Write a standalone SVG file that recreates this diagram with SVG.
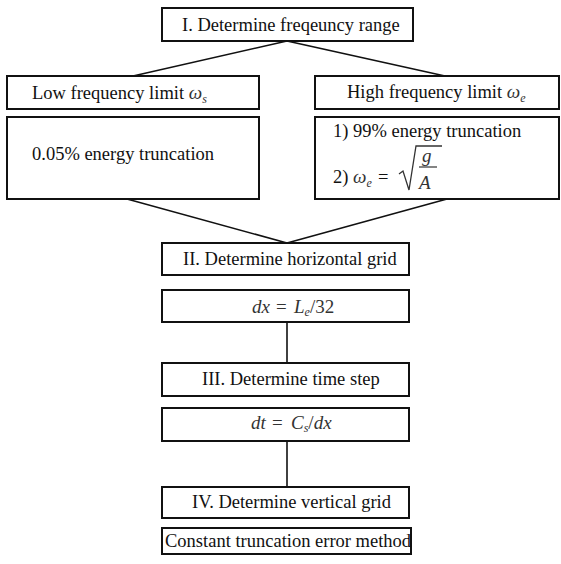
<svg xmlns="http://www.w3.org/2000/svg" width="561" height="564" viewBox="0 0 561 564">
<style>
.box{fill:#fff;stroke:#111;stroke-width:2}
.t{font-family:'Liberation Serif','Times New Roman',Times,'DejaVu Serif',serif;font-size:18.5px;fill:#111}
.m{font-family:'Liberation Serif','Times New Roman',Times,'DejaVu Serif',serif;font-style:italic;font-size:19px;fill:#333}
.sub{font-size:12px}
.c{fill:none;stroke:#111;stroke-width:1.6}
</style>
<rect width="561" height="564" fill="#fff"/>
<g id="connectors">
<line class="c" x1="287" y1="41" x2="133" y2="76"/>
<line class="c" x1="287" y1="41" x2="445" y2="76"/>
<line class="c" x1="127" y1="199" x2="287" y2="243"/>
<line class="c" x1="447" y1="199" x2="287" y2="243"/>
<line class="c" x1="287" y1="322" x2="287" y2="363"/>
<line class="c" x1="287" y1="441" x2="287" y2="487"/>
</g>
<g id="n1"><rect class="box" x="162" y="8" width="251" height="33"/><text class="t" x="182" y="31">I. Determine freqeuncy range</text></g>
<g id="n2"><rect class="box" x="7" y="76" width="252" height="33"/><text class="t" x="32" y="99">Low frequency limit <tspan class="m">ω<tspan class="sub" dy="4">s</tspan></tspan></text></g>
<g id="n3"><rect class="box" x="315" y="76" width="244" height="33"/><text class="t" x="347" y="98">High frequency limit <tspan class="m">ω<tspan class="sub" dy="4">e</tspan></tspan></text></g>
<g id="n4"><rect class="box" x="7" y="117" width="252" height="82"/><text class="t" x="32" y="160">0.05% energy truncation</text></g>
<g id="n5"><rect class="box" x="315" y="117" width="244" height="82"/>
<text class="t" x="333" y="137">1) 99% energy truncation</text>
<text class="t" x="333" y="183">2) <tspan class="m">ω<tspan class="sub" dy="4">e</tspan></tspan><tspan dy="-4" x="378">=</tspan></text>
<path d="M399,174 L403,171 L409,190 L416,146 L442,146" fill="none" stroke="#333" stroke-width="1.3"/>
<text class="m" x="422" y="162">g</text>
<line x1="419" y1="167" x2="437" y2="167" stroke="#333" stroke-width="1.2"/>
<text class="m" x="419" y="189">A</text>
</g>
<g id="n6"><rect class="box" x="162" y="243" width="247" height="32"/><text class="t" x="183" y="265">II. Determine horizontal grid</text></g>
<g id="n7"><rect class="box" x="162" y="290" width="247" height="32"/><text class="m" x="252" y="313">dx<tspan font-style="normal" x="276">=</tspan><tspan x="294">L</tspan><tspan class="sub" dy="3">e</tspan><tspan dy="-3" font-style="normal">/32</tspan></text></g>
<g id="n8"><rect class="box" x="162" y="363" width="247" height="33"/><text class="t" x="202" y="385">III. Determine time step</text></g>
<g id="n9"><rect class="box" x="162" y="408" width="247" height="33"/><text class="m" x="251" y="429">dt<tspan font-style="normal" x="272">=</tspan><tspan x="291">C</tspan><tspan class="sub" dy="3">s</tspan><tspan dy="-3" font-style="normal">/</tspan>dx</text></g>
<g id="n10"><rect class="box" x="162" y="487" width="247" height="31"/><text class="t" x="192" y="508">IV. Determine vertical grid</text></g>
<g id="n11"><rect class="box" x="162" y="528" width="249" height="26"/><text class="t" x="165" y="547">Constant truncation error method</text></g>
</svg>
